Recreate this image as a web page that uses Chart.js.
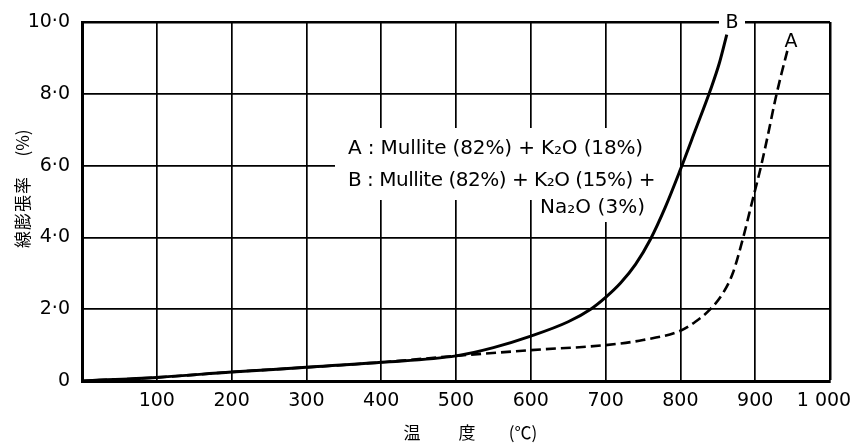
<!DOCTYPE html>
<html>
<head>
<meta charset="utf-8">
<script src="https://cdn.jsdelivr.net/npm/chart.js@4.4.1/dist/chart.umd.min.js"></script>
<style>
  html, body { margin: 0; padding: 0; background: #fff; }
</style>
</head>
<body>
<canvas id="expansion-chart" width="852" height="443"></canvas>
<script>
// temperature (°C) and linear expansion (%) for the two mixes
const tempA = [0, 100, 200, 300, 400, 500, 600, 700, 750, 800, 820, 840, 857, 870, 884, 896, 908, 918, 927, 935, 943];
const expansionA = [0, 0.1, 0.25, 0.38, 0.52, 0.7, 0.86, 1.0, 1.14, 1.4, 1.65, 2.0, 2.45, 3.0, 4.0, 5.0, 6.0, 6.95, 7.85, 8.55, 9.2];

const tempB = [0, 100, 200, 300, 400, 500, 550, 600, 650, 680, 700, 720, 740, 760, 780, 800, 820, 840, 852, 862];
const expansionB = [0, 0.1, 0.25, 0.38, 0.52, 0.7, 0.93, 1.25, 1.65, 2.0, 2.33, 2.73, 3.25, 3.95, 4.85, 5.89, 6.99, 8.1, 8.85, 9.65];

const xTickLabels = ['', '100', '200', '300', '400', '500', '600', '700', '800', '900', '1 000\u00a0\u00a0'];
const yTickLabels = ['0', '2·0', '4·0', '6·0', '8·0', '10·0'];

const legendLines = [
  'A : Mullite (82%) + K₂O (18%)',
  'B : Mullite (82%) + K₂O (15%) +',
  'Na₂O (3%)'
];

function pairs(xs, ys) {
  return xs.map((x, i) => ({ x: x, y: ys[i] }));
}

function fitText(c, text, x, y, width) {
  c.letterSpacing = '0px';
  const w = c.measureText(text).width;
  const sp = (width - w) / text.length;
  c.letterSpacing = sp.toFixed(2) + 'px';
  c.fillText(text, x, y);
  c.letterSpacing = '0px';
}

const labels = {
  id: 'labels',
  beforeDatasetsDraw(chart) {
    const c = chart.ctx;
    c.save();
    // blank out the grid behind the legend text
    c.fillStyle = '#fff';
    c.fillRect(335, 128, 345, 72);
    c.fillRect(535, 195, 125, 27);
    c.restore();
  },
  afterDatasetsDraw(chart) {
    const c = chart.ctx;
    c.save();
    c.fillStyle = '#000';
    c.textBaseline = 'alphabetic';
    c.textAlign = 'left';
    c.font = '20px "DejaVu Sans"';
    fitText(c, legendLines[0], 348, 154, 295);
    fitText(c, legendLines[1], 348, 186, 307);
    fitText(c, legendLines[2], 540, 213, 105);

    // curve letters
    c.fillStyle = '#fff';
    c.fillRect(719, 13, 26, 18);
    c.fillStyle = '#000';
    c.font = '19px "DejaVu Sans"';
    c.textAlign = 'center';
    c.textBaseline = 'middle';
    c.fillText('B', 732, 23);
    c.fillText('A', 791, 42);

    // axis titles
    c.font = '17px "Noto Sans CJK JP"';
    c.fillText('温', 412, 433);
    c.fillText('度', 467, 433);
    c.fillText('(℃)', 523, 433);

    c.translate(23, 0);
    c.rotate(-Math.PI / 2);
    c.letterSpacing = '1px';
    c.fillText('線膨張率', -212, 0);
    c.letterSpacing = '0px';
    c.fillText('(%)', -143, 0);
    c.restore();
  }
};

const ctx = document.getElementById('expansion-chart').getContext('2d');

new Chart(ctx, {
  type: 'scatter',
  data: {
    datasets: [{
      label: 'A',
      data: pairs(tempA, expansionA),
      showLine: true,
      borderColor: '#000',
      borderWidth: 2.6,
      borderDash: [10, 5],
      pointRadius: 0,
      cubicInterpolationMode: 'monotone'
    }, {
      label: 'B',
      data: pairs(tempB, expansionB),
      showLine: true,
      borderColor: '#000',
      borderWidth: 3,
      pointRadius: 0,
      cubicInterpolationMode: 'monotone'
    }]
  },
  options: {
    responsive: false,
    animation: false,
    layout: { padding: { left: 0, right: 22, top: 22, bottom: 0 } },
    plugins: {
      legend: { display: false },
      tooltip: { enabled: false }
    },
    scales: {
      x: {
        type: 'linear',
        min: 0,
        max: 1000,
        afterFit(scale) {
          scale.height = 62;
          scale.paddingLeft = 0;
          scale.paddingRight = 0;
        },
        ticks: {
          stepSize: 100,
          autoSkip: false,
          maxRotation: 0,
          padding: 9,
          color: '#000',
          font: { family: 'DejaVu Sans', size: 19 },
          callback: (value, index) => xTickLabels[index]
        },
        grid: {
          color: '#000',
          drawTicks: false,
          lineWidth: (c) => c.tick && c.tick.value === 1000 ? 2.5 : 1.7
        },
        border: { display: true, color: '#000', width: 3 }
      },
      y: {
        min: 0,
        max: 10,
        afterFit(scale) {
          scale.width = 82;
          scale.paddingTop = 0;
          scale.paddingBottom = 0;
        },
        ticks: {
          stepSize: 2,
          padding: 12,
          color: '#000',
          font: { family: 'DejaVu Sans', size: 19 },
          callback: (value, index) => yTickLabels[index]
        },
        grid: {
          color: '#000',
          drawTicks: false,
          lineWidth: (c) => c.tick && c.tick.value === 10 ? 2.5 : 1.7
        },
        border: { display: true, color: '#000', width: 3 }
      }
    }
  },
  plugins: [labels]
});
</script>
</body>
</html>
